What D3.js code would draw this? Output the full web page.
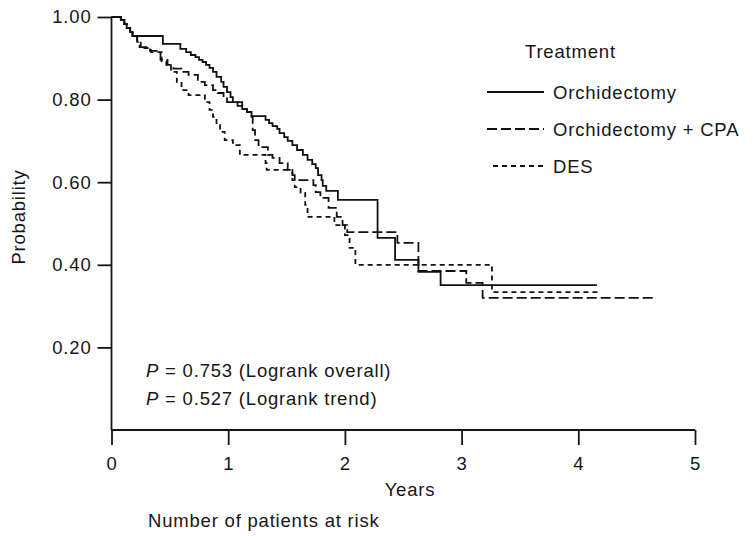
<!DOCTYPE html>
<html>
<head>
<meta charset="utf-8">
<script src="https://cdn.jsdelivr.net/npm/d3@7"></script>
<style>
  body { margin: 0; background: #fff; }
  svg text { font-family: "Liberation Sans", Arial, Helvetica, sans-serif; fill: #161616; letter-spacing: 0.8px; }
</style>
</head>
<body>
<svg id="chart" width="753" height="536"></svg>
<script>
// Kaplan-Meier survival estimates by treatment group
const treatments = ["Orchidectomy", "Orchidectomy + CPA", "DES"];

// Orchidectomy: event times (years) and survival probability after each event
const orchTimes = [0.08,0.11,0.13,0.16,0.18,0.44,0.59,0.64,0.68,0.72,0.75,0.78,0.81,0.84,0.87,0.90,0.94,0.96,0.99,1.02,1.04,1.08,1.12,1.16,1.20,1.32,1.35,1.38,1.42,1.44,1.48,1.51,1.55,1.59,1.64,1.68,1.72,1.75,1.77,1.80,1.81,1.84,1.94,2.28,2.43,2.63,2.82];
const orchSurv  = [0.993,0.983,0.973,0.964,0.954,0.935,0.923,0.915,0.908,0.903,0.896,0.891,0.884,0.877,0.867,0.855,0.843,0.831,0.818,0.806,0.794,0.785,0.777,0.770,0.760,0.751,0.743,0.736,0.729,0.719,0.709,0.700,0.690,0.678,0.666,0.654,0.644,0.634,0.617,0.605,0.591,0.579,0.557,0.465,0.412,0.383,0.351];
const orchEnd = 4.16;

// Orchidectomy + CPA
const cpaTimes = [0.08,0.11,0.13,0.16,0.18,0.22,0.24,0.33,0.42,0.48,0.53,0.60,0.66,0.74,0.80,0.87,0.91,0.96,0.99,1.12,1.16,1.20,1.21,1.23,1.26,1.34,1.38,1.44,1.51,1.55,1.57,1.73,1.75,1.79,1.86,1.93,1.98,2.02,2.45,2.63,3.04,3.18];
const cpaSurv  = [0.993,0.983,0.973,0.964,0.954,0.940,0.927,0.918,0.896,0.884,0.875,0.867,0.860,0.843,0.835,0.823,0.816,0.806,0.794,0.777,0.770,0.758,0.726,0.702,0.685,0.666,0.659,0.646,0.630,0.617,0.605,0.593,0.576,0.562,0.538,0.516,0.496,0.479,0.453,0.385,0.356,0.320];
const cpaEnd = 4.66;

// DES
const desTimes = [0.08,0.11,0.13,0.16,0.18,0.22,0.25,0.34,0.43,0.47,0.51,0.53,0.56,0.60,0.66,0.80,0.84,0.87,0.90,0.93,0.97,1.04,1.10,1.32,1.33,1.55,1.57,1.62,1.66,1.68,1.91,2.00,2.04,2.09,3.26];
const desSurv  = [0.993,0.983,0.973,0.964,0.954,0.940,0.925,0.915,0.893,0.884,0.872,0.867,0.843,0.823,0.811,0.794,0.775,0.758,0.738,0.722,0.702,0.690,0.666,0.646,0.630,0.605,0.588,0.574,0.545,0.516,0.496,0.472,0.441,0.400,0.334];
const desEnd = 4.19;

// Axis ticks
const xTicks = [0, 1, 2, 3, 4, 5];
const yTicks = [0.2, 0.4, 0.6, 0.8, 1.0];

// Test statistics
const pLines = [
  { p: "0.753", test: "(Logrank overall)" },
  { p: "0.527", test: "(Logrank trend)" }
];

const dashes = ["none", "10,4", "5,4"];

const series = [
  { name: treatments[0], times: orchTimes, surv: orchSurv, end: orchEnd, dash: dashes[0] },
  { name: treatments[1], times: cpaTimes,  surv: cpaSurv,  end: cpaEnd,  dash: dashes[1] },
  { name: treatments[2], times: desTimes,  surv: desSurv,  end: desEnd,  dash: dashes[2] }
];

const svg = d3.select("#chart");
const x = d3.scaleLinear().domain([0, 5]).range([111.5, 695]);
const y = d3.scaleLinear().domain([0, 1]).range([430, 17]);
const FS = 18.5;

// y axis
const yAxis = d3.axisLeft(y).tickValues(yTicks).tickFormat(d3.format(".2f"))
  .tickSize(14).tickSizeOuter(0).tickPadding(6);
const gy = svg.append("g").attr("transform", `translate(${x(0)},0)`).call(yAxis);
gy.select(".domain").attr("stroke", "#161616").attr("stroke-width", 1.8)
  .attr("d", `M0,${y(1)}V${y(0)}`);
gy.selectAll(".tick line").attr("stroke", "#161616").attr("stroke-width", 1.8);
gy.selectAll(".tick text").attr("font-size", FS).attr("font-family", null).attr("fill", null);

// x axis
const xAxis = d3.axisBottom(x).tickValues(xTicks).tickFormat(d3.format("d"))
  .tickSize(15).tickSizeOuter(0).tickPadding(12);
const gx = svg.append("g").attr("transform", `translate(0,${y(0)})`).call(xAxis);
gx.select(".domain").attr("stroke", "#161616").attr("stroke-width", 1.8)
  .attr("d", `M${x(0)},0H${x(5)}`);
gx.selectAll(".tick line").attr("stroke", "#161616").attr("stroke-width", 1.8);
gx.selectAll(".tick text").attr("font-size", FS).attr("font-family", null).attr("fill", null);

// axis titles
svg.append("text").attr("transform", "translate(25,217) rotate(-90)")
  .attr("text-anchor", "middle").attr("font-size", FS).text("Probability");
svg.append("text").attr("x", 410).attr("y", 496).attr("text-anchor", "middle")
  .attr("font-size", FS).text("Years");
svg.append("text").attr("x", 148).attr("y", 527).attr("font-size", FS)
  .text("Number of patients at risk");

// survival curves
const line = d3.line().x(d => x(d[0])).y(d => y(d[1])).curve(d3.curveStepAfter);
series.forEach(s => {
  const pts = [[0, 1]].concat(s.times.map((t, i) => [t, s.surv[i]]));
  pts.push([s.end, s.surv[s.surv.length - 1]]);
  svg.append("path").datum(pts)
    .attr("d", line)
    .attr("fill", "none")
    .attr("stroke", "#111")
    .attr("stroke-width", 1.8)
    .attr("stroke-dasharray", s.dash === "none" ? null : s.dash);
});

// legend
const legend = svg.append("g");
legend.append("text").attr("x", 525).attr("y", 58).attr("font-size", FS).text("Treatment");
const legY = [92, 129, 166];
const legX0 = [487, 487, 493];
series.forEach((s, i) => {
  legend.append("line").attr("x1", legX0[i]).attr("x2", 544)
    .attr("y1", legY[i]).attr("y2", legY[i])
    .attr("stroke", "#111").attr("stroke-width", 1.8)
    .attr("stroke-dasharray", s.dash === "none" ? null : s.dash);
  legend.append("text").attr("x", 553).attr("y", legY[i] + 6.5)
    .attr("font-size", FS).text(s.name);
});

// logrank results
pLines.forEach((d, i) => {
  const t = svg.append("text").attr("x", 146).attr("y", 377 + i * 28).attr("font-size", FS);
  t.append("tspan").attr("font-style", "italic").text("P");
  t.append("tspan").text(` = ${d.p} ${d.test}`);
});
</script>
</body>
</html>
